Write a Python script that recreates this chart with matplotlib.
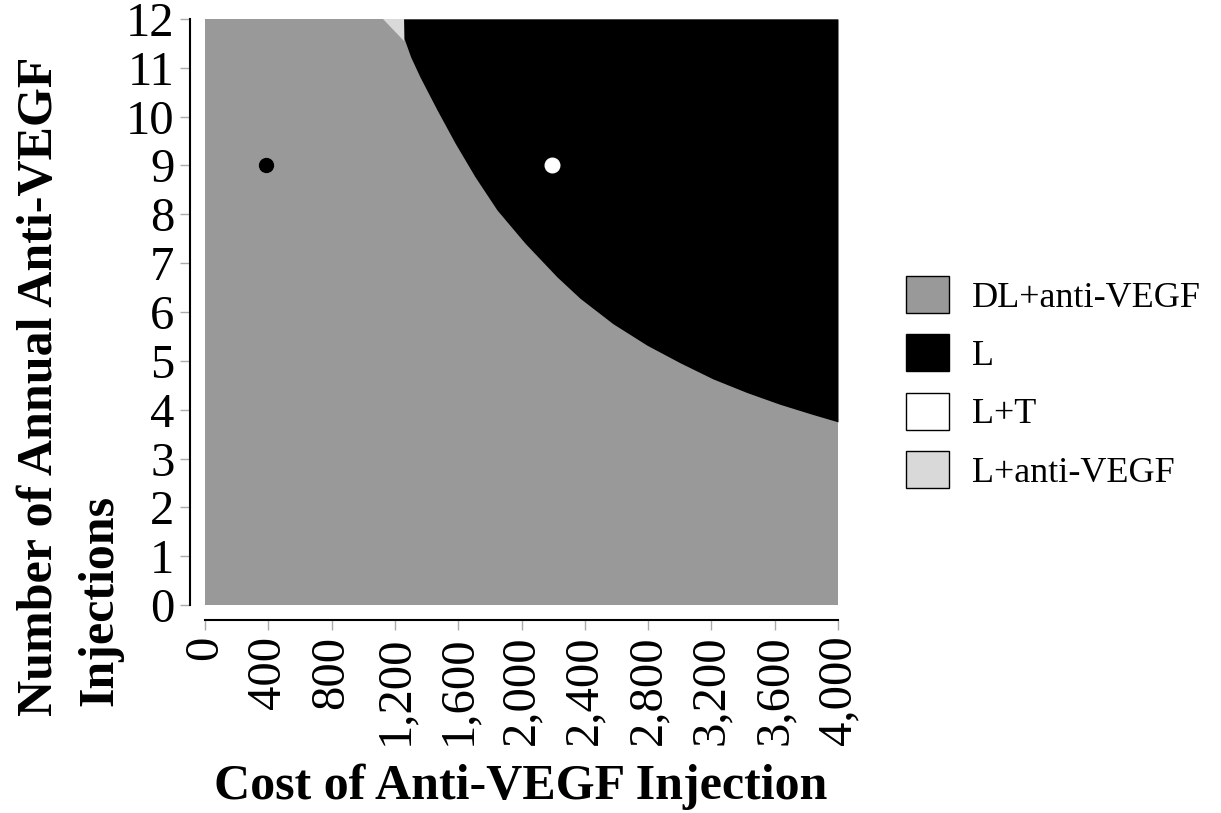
import matplotlib
matplotlib.use("Agg")
import matplotlib.pyplot as plt
from matplotlib.patches import Patch

plt.rcParams['font.family'] = ['Liberation Serif', 'DejaVu Serif']

# boundary between DL+anti-VEGF (below) and L (above)
cost_bd = [1255, 1258, 1300, 1359, 1466, 1580, 1706, 1845, 2022, 2224, 2370,
           2578, 2793, 3002, 3210, 3425, 3633, 3842, 4000]
n_bd = [12.0, 11.6, 11.22, 10.81, 10.14, 9.46, 8.77, 8.09, 7.41, 6.72, 6.28,
        5.76, 5.32, 4.96, 4.63, 4.35, 4.11, 3.90, 3.75]

# small L+anti-VEGF corner at the top
light_cost = [1125, 1255, 1255]
light_n = [12.0, 12.0, 11.55]

# base case points
pt_black = (385, 9)
pt_white = (2190, 9)

x_ticks = list(range(0, 4001, 400))
y_ticks = list(range(0, 13))

labels = ['DL+anti-VEGF', 'L', 'L+T', 'L+anti-VEGF']
colors = ['#999999', '#000000', '#ffffff', '#d9d9d9']

fig = plt.figure(figsize=(12.21, 8.13), dpi=100)
ax = fig.add_axes([205 / 1221, 1 - 605 / 813, 633 / 1221, 586 / 813])

# spines first: moving them resets the ticks
for s in ['top', 'right']:
    ax.spines[s].set_visible(False)
ax.spines['left'].set_position(('outward', 11))
ax.spines['bottom'].set_position(('outward', 11))
ax.spines['left'].set_linewidth(1.5)
ax.spines['bottom'].set_linewidth(1.5)

ax.fill_between([0, 4000], 0, 12, color=colors[0], lw=0)
ax.fill_between(cost_bd, n_bd, 12, color=colors[1], lw=0)
ax.fill(light_cost, light_n, color=colors[3], lw=0)

ax.plot(*pt_black, 'o', color='black', markersize=10)
ax.plot(*pt_white, 'o', color='white', markersize=10.5)

ax.set_xlim(0, 4000)
ax.set_ylim(0, 12)
ax.set_xticks(x_ticks)
ax.set_xticklabels([f'{v:,}' for v in x_ticks])
ax.set_yticks(y_ticks)
ax.set_yticklabels([str(v) for v in y_ticks])
ax.tick_params(direction='out', length=7, width=1, color='#aaaaaa', pad=4,
               labelsize=35)
ax.tick_params(axis='x', labelrotation=90)

fig.text(40 / 1221, 1 - 386 / 813, 'Number of Annual Anti-VEGF', rotation=90,
         ha='center', va='center', fontsize=36, fontweight='bold')
fig.text(100 / 1221, 1 - 600 / 813, 'Injections', rotation=90,
         ha='center', va='center', fontsize=36, fontweight='bold')
fig.text(521 / 1221, 1 - 787 / 813, 'Cost of Anti-VEGF Injection',
         ha='center', va='center', fontsize=36, fontweight='bold')

handles = [Patch(facecolor=c, edgecolor='black', linewidth=1) for c in colors]
fig.legend(handles, labels, loc='upper left',
           bbox_to_anchor=(906 / 1221, 1 - 276 / 813),
           frameon=False, fontsize=26, borderpad=0, borderaxespad=0,
           handlelength=1.19, handleheight=1.19, handletextpad=0.64,
           labelspacing=0.55)

fig.savefig('out.png', dpi=100)
